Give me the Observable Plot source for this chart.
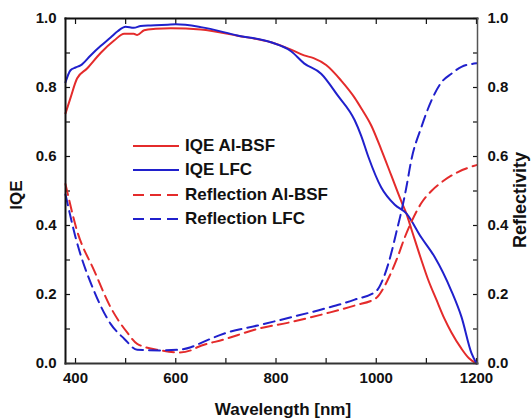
<!DOCTYPE html>
<html><head><meta charset="utf-8">
<script src="https://cdn.jsdelivr.net/npm/d3@7"></script>
<script src="https://cdn.jsdelivr.net/npm/@observablehq/plot@0.6"></script>
<style>
body{margin:0;background:#fff;font-family:"Liberation Sans",Arial,sans-serif;}
#wrap{position:relative;width:531px;height:418px;overflow:hidden;}
#legend{position:absolute;left:133px;top:134px;font-weight:bold;font-size:17px;color:#111;}
.row{display:flex;align-items:center;height:24.3px;white-space:nowrap;}
.row svg{margin-right:6px;}
.title{position:absolute;font-weight:bold;color:#111;line-height:1;white-space:nowrap;transform:translate(-50%,-50%);}
.rot{transform:translate(-50%,-50%) rotate(-90deg);}
</style></head><body><div id="wrap"><div id="legend"></div>
<div class="title rot" style="left:16px;top:195px;font-size:17px;">IQE</div>
<div class="title rot" style="left:520px;top:200px;font-size:18px;">Reflectivity</div>
<div class="title" style="left:283px;top:409px;font-size:17px;">Wavelength [nm]</div>
</div>
<script>
// IQE Al-BSF (red solid)
const iqeAlWl  = [380,390,403,423,450,477,497,516,523,537,560,590,650,723,790,830,856,875,900,930,957,970,990,1010,1030,1050,1060,1070,1090,1103,1120,1136,1150,1170,1185,1200];
const iqeAlVal = [0.725,0.77,0.826,0.855,0.90,0.936,0.956,0.956,0.952,0.966,0.970,0.972,0.968,0.95,0.931,0.91,0.893,0.885,0.865,0.82,0.77,0.74,0.69,0.62,0.545,0.47,0.435,0.39,0.30,0.245,0.185,0.13,0.09,0.043,0.015,0.0];
// IQE LFC (blue solid)
const iqeLfcWl  = [380,390,400,410,430,450,470,484,500,516,530,550,584,600,650,723,790,830,856,890,923,957,970,984,1010,1037,1060,1090,1116,1150,1170,1190,1200];
const iqeLfcVal = [0.815,0.85,0.858,0.864,0.893,0.92,0.945,0.963,0.976,0.973,0.978,0.98,0.982,0.983,0.975,0.951,0.931,0.905,0.87,0.84,0.777,0.705,0.66,0.60,0.51,0.46,0.435,0.365,0.31,0.21,0.135,0.03,0.0];
// Reflection Al-BSF (red dashed)
const refAlWl  = [380,403,437,470,503,523,570,606,630,643,697,763,830,897,957,1000,1015,1027,1043,1057,1070,1090,1110,1130,1163,1200];
const refAlVal = [0.52,0.385,0.27,0.163,0.09,0.057,0.038,0.032,0.038,0.047,0.07,0.10,0.12,0.144,0.168,0.19,0.22,0.255,0.31,0.366,0.41,0.465,0.5,0.525,0.555,0.575];
// Reflection LFC (blue dashed)
const refLfcWl  = [380,400,437,470,497,523,570,606,630,643,697,763,830,897,957,1000,1015,1030,1040,1050,1060,1070,1090,1110,1130,1150,1170,1200];
const refLfcVal = [0.49,0.366,0.21,0.115,0.072,0.04,0.038,0.04,0.047,0.055,0.087,0.11,0.134,0.159,0.185,0.21,0.25,0.32,0.38,0.44,0.51,0.59,0.685,0.762,0.815,0.84,0.86,0.87];

const seriesNames = ["IQE Al-BSF","IQE LFC","Reflection Al-BSF","Reflection LFC"];
const xTicks = [400,500,600,700,800,900,1000,1100,1200];
const yTicks = [0,0.1,0.2,0.3,0.4,0.5,0.6,0.7,0.8,0.9,1.0];

const RED = "#e42b2b", BLUE = "#2020cc";
const series = [
  {name: seriesNames[0], wl: iqeAlWl, v: iqeAlVal, color: RED, dash: null},
  {name: seriesNames[1], wl: iqeLfcWl, v: iqeLfcVal, color: BLUE, dash: null},
  {name: seriesNames[2], wl: refAlWl, v: refAlVal, color: RED, dash: "11,6"},
  {name: seriesNames[3], wl: refLfcWl, v: refLfcVal, color: BLUE, dash: "11,6"}
];
const toRows = s => s.wl.map((w, i) => ({series: s.name, wl: w, v: s.v[i]}));

const xLab = d => (d % 200 === 0 ? String(d) : "");
const yLab = d => (Math.round(d * 10) % 2 === 0 ? d.toFixed(1) : "");

const plot = Plot.plot({
  width: 531, height: 418,
  marginLeft: 65, marginRight: 54, marginTop: 18, marginBottom: 55,
  x: {domain: [380, 1202]},
  y: {domain: [0, 1]},
  style: {fontFamily: "'Liberation Sans', Arial, sans-serif", fontWeight: "bold", fontSize: "15px", color: "#111", background: "#fff"},
  marks: [
    // ticks point inward: shift each axis by its tick length into the frame
    Plot.axisX(xTicks, {anchor: "bottom", tickSize: 5, dy: -5, tickPadding: 9, tickFormat: xLab, label: null, fontSize: 15, strokeWidth: 1.2}),
    Plot.axisX(xTicks, {anchor: "top", tickSize: 5, dy: 5, tickFormat: () => "", label: null, strokeWidth: 1.2}),
    Plot.axisY(yTicks, {anchor: "left", tickSize: 5, dx: 5, tickPadding: 9, tickFormat: yLab, label: null, fontSize: 15, strokeWidth: 1.2}),
    Plot.axisY(yTicks, {anchor: "right", tickSize: 5, dx: -5, tickPadding: 10, tickFormat: yLab, label: null, fontSize: 15, strokeWidth: 1.2}),
    ...series.map(s => Plot.line(toRows(s), {x: "wl", y: "v", stroke: s.color, strokeWidth: 2, strokeDasharray: s.dash, curve: "monotone-x"})),
    Plot.frame({anchor: "top", stroke: "#111", strokeWidth: 2}),
    Plot.frame({anchor: "left", stroke: "#111", strokeWidth: 2}),
    Plot.frame({anchor: "bottom", stroke: "#333", strokeWidth: 2}),
    Plot.frame({anchor: "right", stroke: "#555", strokeWidth: 1.5})
  ]
});
document.getElementById("wrap").prepend(plot);

const legend = document.getElementById("legend");
series.forEach(s => {
  const row = document.createElement("div");
  row.className = "row";
  row.innerHTML = `<svg width="46" height="4"><line x1="0" y1="2" x2="46" y2="2" stroke="${s.color}" stroke-width="2"${s.dash ? ` stroke-dasharray="11,6"` : ""}/></svg><span>${s.name}</span>`;
  legend.appendChild(row);
});
</script>
</body></html>
